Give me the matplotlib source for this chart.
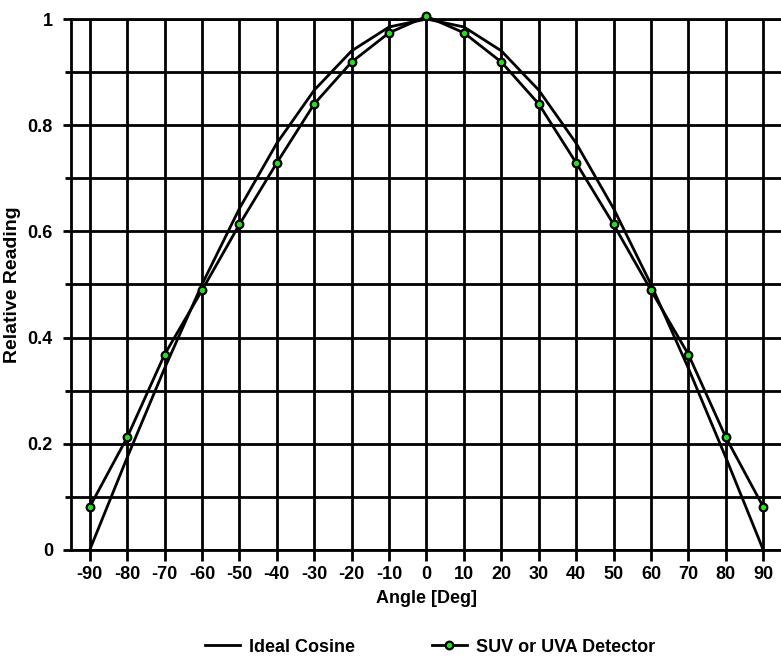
import matplotlib
matplotlib.use("Agg")
import matplotlib.pyplot as plt
from matplotlib.ticker import MultipleLocator

# data
angles = [-90, -80, -70, -60, -50, -40, -30, -20, -10, 0,
          10, 20, 30, 40, 50, 60, 70, 80, 90]
ideal_cosine = [0.000, 0.174, 0.342, 0.500, 0.643, 0.766, 0.866, 0.940, 0.985, 1.000,
                0.985, 0.940, 0.866, 0.766, 0.643, 0.500, 0.342, 0.174, 0.000]
detector = [0.081, 0.212, 0.368, 0.489, 0.613, 0.729, 0.840, 0.919, 0.974, 1.005,
            0.974, 0.919, 0.840, 0.729, 0.613, 0.489, 0.368, 0.212, 0.081]
x_ticks = list(range(-90, 91, 10))
y_ticks = [0, 0.2, 0.4, 0.6, 0.8, 1]
y_tick_labels = ["0", "0.2", "0.4", "0.6", "0.8", "1"]

plt.rcParams["font.family"] = ["Liberation Sans", "DejaVu Sans"]
plt.rcParams["font.weight"] = "bold"
plt.rcParams["font.size"] = 13

W, H = 781, 662
fig = plt.figure(figsize=(W / 100, H / 100), dpi=100)
ax = fig.add_axes([71 / W, 112 / H, 711 / W, 531 / H])

lw = 2.0
ax.plot(angles, ideal_cosine, color="black", lw=lw, label="Ideal Cosine", zorder=3)
ax.plot(angles, detector, color="black", lw=lw, marker="o", markersize=5.5,
        markerfacecolor="#22e022", markeredgecolor="black", markeredgewidth=1.6,
        label="SUV or UVA Detector", zorder=4, clip_on=False)

ax.set_xlim(-95, 95)
ax.set_ylim(0, 1)
ax.set_xticks(x_ticks)
ax.set_xticklabels([str(v) for v in x_ticks])
ax.set_yticks(y_ticks)
ax.set_yticklabels(y_tick_labels)
ax.yaxis.set_minor_locator(MultipleLocator(0.1))

ax.grid(True, which="both", color="black", lw=lw, zorder=1)
ax.set_axisbelow(True)
for side in ["left", "bottom", "top", "right"]:
    ax.spines[side].set_linewidth(lw)
    ax.spines[side].set_color("black")

ax.tick_params(axis="x", which="major", length=8, width=lw, pad=3.5)
ax.tick_params(axis="y", which="major", length=6, width=lw, pad=7)
ax.tick_params(axis="y", which="minor", length=4.5, width=lw)

ax.set_xlabel("Angle [Deg]", fontweight="bold", labelpad=5)
ax.set_ylabel("Relative Reading", fontweight="bold", fontsize=14, labelpad=5)

handles, labels = ax.get_legend_handles_labels()
fig.legend(handles, labels, loc="center", bbox_to_anchor=(430 / W, 1 - 647 / H),
           ncol=2, frameon=False, handlelength=1.9, handletextpad=0.5,
           columnspacing=4.3)

fig.savefig("out.png", dpi=100)
